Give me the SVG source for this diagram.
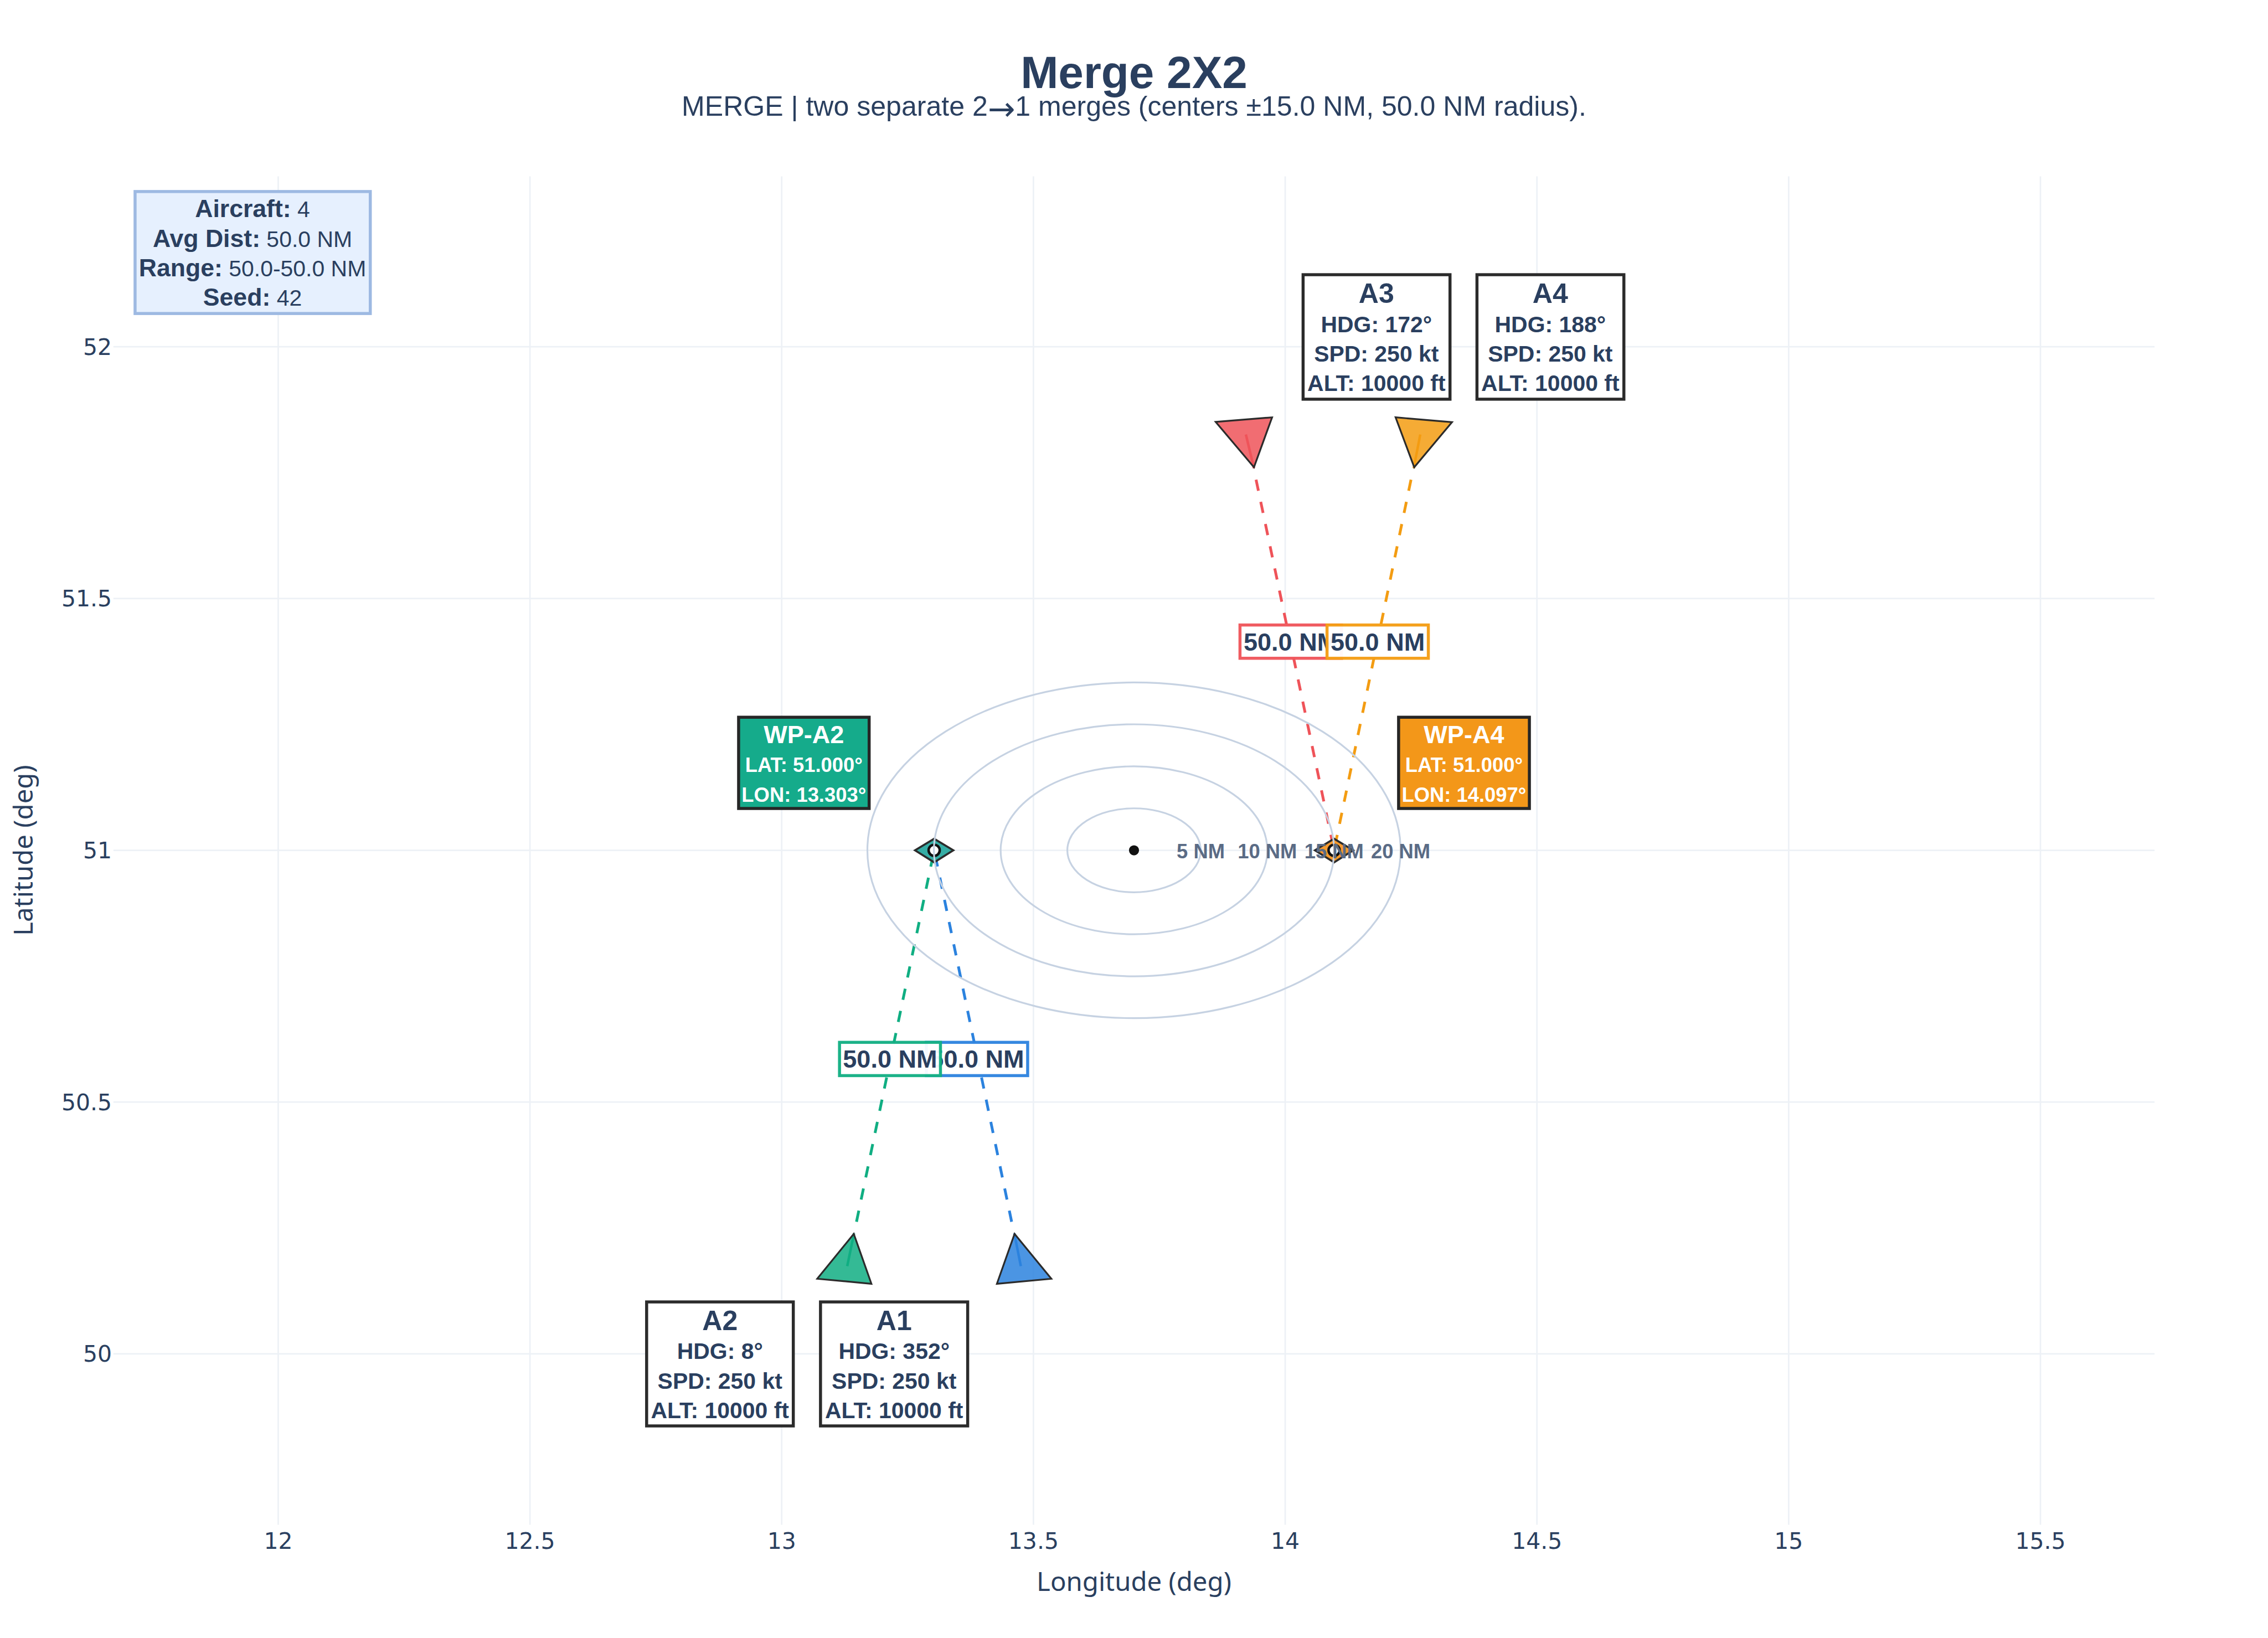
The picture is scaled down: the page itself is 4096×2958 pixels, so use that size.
<svg xmlns="http://www.w3.org/2000/svg" width="4096" height="2958" viewBox="0 0 4096 2958">
<style>
text{font-family:"Liberation Sans",Arial,sans-serif;fill:#2a3f5f;text-anchor:middle}
.grid line{stroke:#edf1f6;stroke-width:3}
.tick{font-family:"DejaVu Sans",sans-serif;font-size:45px}
.tx{text-anchor:middle}
.ty{text-anchor:end}
.axt{font-family:"Noto Sans",sans-serif;font-size:52px}
.ring{fill:none;stroke:#c6d2e2;stroke-width:3.5}
.rl{font-size:40px;font-weight:700;fill:#5a6b85}
.dash{fill:none;stroke-width:5.5;stroke-dasharray:22.5 22.5}
.stub{fill:none;stroke-width:5}
.red{stroke:#ef5359}.org{stroke:#f39c12}.grn{stroke:#10ae82}.blu{stroke:#2b82de}
.ac{stroke:#2b2b2b;stroke-width:3.5;fill-opacity:.85;stroke-linejoin:miter}
.card{fill:#fff;stroke:#2b2b2b;stroke-width:6}
.ct{font-size:55px;font-weight:700}
.cb{font-size:45px;font-weight:700}
.wp{stroke:#262626;stroke-width:6}
.wt{font-size:49.5px;font-weight:700;fill:#fff}
.wb{font-size:40px;font-weight:700;fill:#fff}
.dm{stroke:#2b2b2b;stroke-width:4}
.dc{fill:#fff;stroke:#111;stroke-width:5}
.db{fill:#fff;fill-opacity:.95;stroke-width:6;stroke-opacity:.95}
.dt{font-size:49.5px;font-weight:700}
.ib{font-size:49px;font-weight:700}
.ir{font-size:45px;font-weight:400}
.arw{font-family:"DejaVu Sans",sans-serif;font-size:65px}
</style>
<g transform="scale(0.91022)">
<rect width="4500" height="3250" fill="#fff"/>
<g id="grid" class="grid">
<line x1="552" y1="350" x2="552" y2="3025"/><line x1="1051.5" y1="350" x2="1051.5" y2="3025"/><line x1="1551" y1="350" x2="1551" y2="3025"/><line x1="2050.5" y1="350" x2="2050.5" y2="3025"/><line x1="2550" y1="350" x2="2550" y2="3025"/><line x1="3049.5" y1="350" x2="3049.5" y2="3025"/><line x1="3549" y1="350" x2="3549" y2="3025"/><line x1="4048.5" y1="350" x2="4048.5" y2="3025"/>
<line x1="225" y1="688" x2="4275" y2="688"/><line x1="225" y1="1187.5" x2="4275" y2="1187.5"/><line x1="225" y1="1687" x2="4275" y2="1687"/><line x1="225" y1="2186.5" x2="4275" y2="2186.5"/><line x1="225" y1="2686" x2="4275" y2="2686"/>
</g>
<g id="axes">
<text class="tick tx" x="552" y="3073">12</text><text class="tick tx" x="1051.5" y="3073">12.5</text><text class="tick tx" x="1551" y="3073">13</text><text class="tick tx" x="2050.5" y="3073">13.5</text><text class="tick tx" x="2550" y="3073">14</text><text class="tick tx" x="3049.5" y="3073">14.5</text><text class="tick tx" x="3549" y="3073">15</text><text class="tick tx" x="4048.5" y="3073">15.5</text>
<text class="tick ty" x="222" y="704">52</text><text class="tick ty" x="222" y="1203.5">51.5</text><text class="tick ty" x="222" y="1703">51</text><text class="tick ty" x="222" y="2202.5">50.5</text><text class="tick ty" x="222" y="2702">50</text>
<text class="axt" x="2250" y="3156">Longitude (deg)</text>
<text class="axt" transform="translate(65 1687) rotate(-90)">Latitude (deg)</text>
</g>
<g id="title">
<text x="2250" y="175" font-size="90" font-weight="700">Merge 2X2</text>
<text x="2250" y="230" font-size="55">MERGE | two separate 2<tspan class="arw" dy="8">→</tspan><tspan dy="-8">1</tspan> merges (centers ±15.0 NM, 50.0 NM radius).</text>
</g>
<g id="connectors">
<line class="stub blu" x1="2025.5" y1="2512" x2="2012.5" y2="2447"/><line class="dash blu" x1="2007.2" y1="2424" x2="1853.5" y2="1687"/>
<line class="stub grn" x1="1681" y1="2512" x2="1694.5" y2="2447"/><line class="dash grn" x1="1699.4" y1="2424" x2="1853.5" y2="1687"/>
<line class="stub red" x1="2472" y1="862" x2="2488" y2="929"/><line class="dash red" x1="2492.2" y1="951.6" x2="2647" y2="1687"/>
<line class="stub org" x1="2818" y1="862" x2="2805" y2="929"/><line class="dash org" x1="2799.6" y1="951.6" x2="2647" y2="1687"/>
</g>
<g id="aircraft-A1"><polygon class="ac" fill="#2b82de" points="2013,2448 1978,2547 2086,2537"/></g>
<g id="aircraft-A2"><polygon class="ac" fill="#10ae82" points="1694,2448 1621.5,2537 1729,2547"/></g>
<g id="aircraft-A3"><polygon class="ac" fill="#ef5359" points="2488,927 2412,837 2524,828"/></g>
<g id="aircraft-A4"><polygon class="ac" fill="#f39c12" points="2806,927 2769,828 2881,837.5"/></g>
<g id="waypoint-marker-A2"><polygon class="dm" fill="#35ada5" points="1815.5,1687 1853.5,1664 1891.5,1687 1853.5,1711"/><circle class="dc" cx="1853.5" cy="1687" r="11"/></g>
<g id="waypoint-marker-A4"><polygon class="dm" fill="#f59a2f" points="2609,1687 2647,1664 2685,1687 2647,1711"/><circle class="dc" cx="2647" cy="1687" r="11"/></g>
<g id="range-rings">
<ellipse class="ring" cx="2250" cy="1687" rx="132.3" ry="83.3"/><ellipse class="ring" cx="2250" cy="1687" rx="264.6" ry="166.6"/><ellipse class="ring" cx="2250" cy="1687" rx="397" ry="250"/><ellipse class="ring" cx="2250" cy="1687" rx="529" ry="333"/>
<circle cx="2250" cy="1687" r="10" fill="#111"/>
<text class="rl" x="2382.5" y="1703">5 NM</text><text class="rl" x="2514.5" y="1703">10 NM</text><text class="rl" x="2647" y="1703">15 NM</text><text class="rl" x="2779" y="1703">20 NM</text>
</g>
<g id="dist-A1"><rect class="db blu" x="1838" y="2068" width="201" height="66"/><text class="dt" x="1938.5" y="2118">50.0 NM</text></g>
<g id="dist-A2"><rect class="db grn" x="1665.7" y="2068" width="200.3" height="66"/><text class="dt" x="1766" y="2118">50.0 NM</text></g>
<g id="dist-A3"><rect class="db red" x="2460.3" y="1240" width="201.4" height="66"/><text class="dt" x="2561" y="1291">50.0 NM</text></g>
<g id="dist-A4"><rect class="db org" x="2633" y="1240" width="201" height="66"/><text class="dt" x="2733.5" y="1291">50.0 NM</text></g>
<g id="waypoint-A2"><rect class="wp" fill="#15ab8b" x="1465.5" y="1423" width="259" height="181"/><text class="wt" x="1595" y="1474">WP-A2</text><text class="wb" x="1595" y="1532">LAT: 51.000°</text><text class="wb" x="1595" y="1591">LON: 13.303°</text></g>
<g id="waypoint-A4"><rect class="wp" fill="#f39719" x="2775" y="1423" width="259.5" height="181"/><text class="wt" x="2904.7" y="1474">WP-A4</text><text class="wb" x="2904.7" y="1532">LAT: 51.000°</text><text class="wb" x="2904.7" y="1591">LON: 14.097°</text></g>
<g id="card-A3"><rect class="card" x="2585.5" y="545" width="291.5" height="247"/><text class="ct" x="2731" y="600.5">A3</text><text class="cb" x="2731" y="659">HDG: 172°</text><text class="cb" x="2731" y="717.5">SPD: 250 kt</text><text class="cb" x="2731" y="776">ALT: 10000 ft</text></g>
<g id="card-A4"><rect class="card" x="2930.5" y="545" width="291.5" height="247"/><text class="ct" x="3076" y="600.5">A4</text><text class="cb" x="3076" y="659">HDG: 188°</text><text class="cb" x="3076" y="717.5">SPD: 250 kt</text><text class="cb" x="3076" y="776">ALT: 10000 ft</text></g>
<g id="card-A2"><rect class="card" x="1283" y="2583" width="291" height="246"/><text class="ct" x="1428.5" y="2638.5">A2</text><text class="cb" x="1428.5" y="2696.5">HDG: 8°</text><text class="cb" x="1428.5" y="2755">SPD: 250 kt</text><text class="cb" x="1428.5" y="2813.5">ALT: 10000 ft</text></g>
<g id="card-A1"><rect class="card" x="1628" y="2583" width="292" height="246"/><text class="ct" x="1774" y="2638.5">A1</text><text class="cb" x="1774" y="2696.5">HDG: 352°</text><text class="cb" x="1774" y="2755">SPD: 250 kt</text><text class="cb" x="1774" y="2813.5">ALT: 10000 ft</text></g>
<g id="info-box"><rect x="268" y="380" width="466.7" height="242" fill="#e6f0fe" stroke="#9db9e2" stroke-width="6"/>
<text class="ir" x="501" y="431"><tspan class="ib">Aircraft:</tspan> 4</text>
<text class="ir" x="501" y="489.5"><tspan class="ib">Avg Dist:</tspan> 50.0 NM</text>
<text class="ir" x="501" y="548"><tspan class="ib">Range:</tspan> 50.0-50.0 NM</text>
<text class="ir" x="501" y="606.5"><tspan class="ib">Seed:</tspan> 42</text></g>
</g>
</svg>
